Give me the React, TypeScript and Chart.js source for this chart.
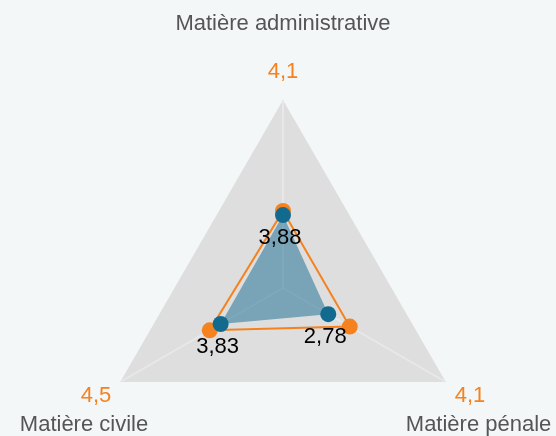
import React, { useEffect, useRef } from 'react';
import { Chart, registerables } from 'chart.js';

Chart.register(...registerables);

// ---- data ----
const categories = ['Matière administrative', 'Matière pénale', 'Matière civile'];
const evaluatedValues = [3.88, 2.78, 3.83]; // blue, filled
const referenceValues = [4.1, 4.1, 4.5]; // orange, outline
const scaleMin = 0;
const scaleMax = 10;

const FONT = "'Liberation Sans', Arial, Helvetica, sans-serif";
const ORANGE = '#f5821f';
const BLUE = '#136a8f';
const BLUE_FILL = 'rgba(19,106,143,0.5)';

const fmt = (v: number) => String(v).replace('.', ',');

const labelPlugin = {
  id: 'radarLabels',
  afterDraw(chart: any) {
    const scale = chart.scales.r;
    const ctx = chart.ctx;
    ctx.save();
    ctx.font = `22px ${FONT}`;
    ctx.textBaseline = 'middle';

    // orange reference values beyond each axis end
    ctx.fillStyle = ORANGE;
    ctx.textAlign = 'center';
    referenceValues.forEach((v, i) => {
      const p = scale.getPointPosition(i, scale.drawingArea + 28);
      ctx.fillText(fmt(v), p.x, p.y);
    });

    // category labels
    ctx.fillStyle = '#555555';
    categories.forEach((c, i) => {
      const vtx = scale.getPointPosition(i, scale.drawingArea);
      if (Math.abs(vtx.x - scale.xCenter) < 1) {
        ctx.textAlign = 'center';
        ctx.fillText(c, vtx.x, vtx.y - 76);
      } else if (vtx.x > scale.xCenter) {
        ctx.textAlign = 'left';
        ctx.fillText(c, vtx.x - 40, vtx.y + 43);
      } else {
        ctx.textAlign = 'right';
        ctx.fillText(c, vtx.x + 28, vtx.y + 43);
      }
    });

    // blue data labels under the points
    ctx.fillStyle = '#000000';
    ctx.textAlign = 'center';
    const meta = chart.getDatasetMeta(0);
    meta.data.forEach((el: any, i: number) => {
      ctx.fillText(fmt(evaluatedValues[i]), el.x - 3, el.y + 23);
    });
    ctx.restore();
  },
};

export default function App() {
  const canvasRef = useRef<HTMLCanvasElement | null>(null);

  useEffect(() => {
    if (!canvasRef.current) return;
    const chart = new Chart(canvasRef.current, {
      type: 'radar',
      data: {
        labels: categories,
        datasets: [
          {
            label: 'Évaluation',
            data: evaluatedValues,
            fill: true,
            backgroundColor: BLUE_FILL,
            borderColor: 'rgba(0,0,0,0)',
            borderWidth: 0,
            pointBackgroundColor: BLUE,
            pointBorderColor: BLUE,
            pointBorderWidth: 0,
            pointRadius: 8,
          },
          {
            label: 'Référence',
            data: referenceValues,
            fill: false,
            backgroundColor: 'rgba(0,0,0,0)',
            borderColor: ORANGE,
            borderWidth: 2,
            pointBackgroundColor: ORANGE,
            pointBorderColor: ORANGE,
            pointBorderWidth: 0,
            pointRadius: 8,
          },
        ],
      },
      options: {
        animation: false,
        responsive: true,
        maintainAspectRatio: false,
        layout: { padding: { left: 95, right: 85, top: 100, bottom: 0 } },
        plugins: {
          legend: { display: false },
          tooltip: { enabled: false },
        },
        scales: {
          r: {
            min: scaleMin,
            max: scaleMax,
            backgroundColor: '#dedede',
            grid: { display: false },
            angleLines: { display: true, color: '#e8e8e8', lineWidth: 2 },
            ticks: { display: false },
            pointLabels: { display: false },
          },
        },
      },
      plugins: [labelPlugin],
    });
    return () => chart.destroy();
  }, []);

  return (
    <div
      style={{
        position: 'fixed',
        left: 0,
        top: 0,
        width: 556,
        height: 436,
        overflow: 'hidden',
        background: '#f4f7f8',
      }}
    >
      <div style={{ position: 'relative', width: 556, height: 476 }}>
        <canvas ref={canvasRef} />
      </div>
    </div>
  );
}
